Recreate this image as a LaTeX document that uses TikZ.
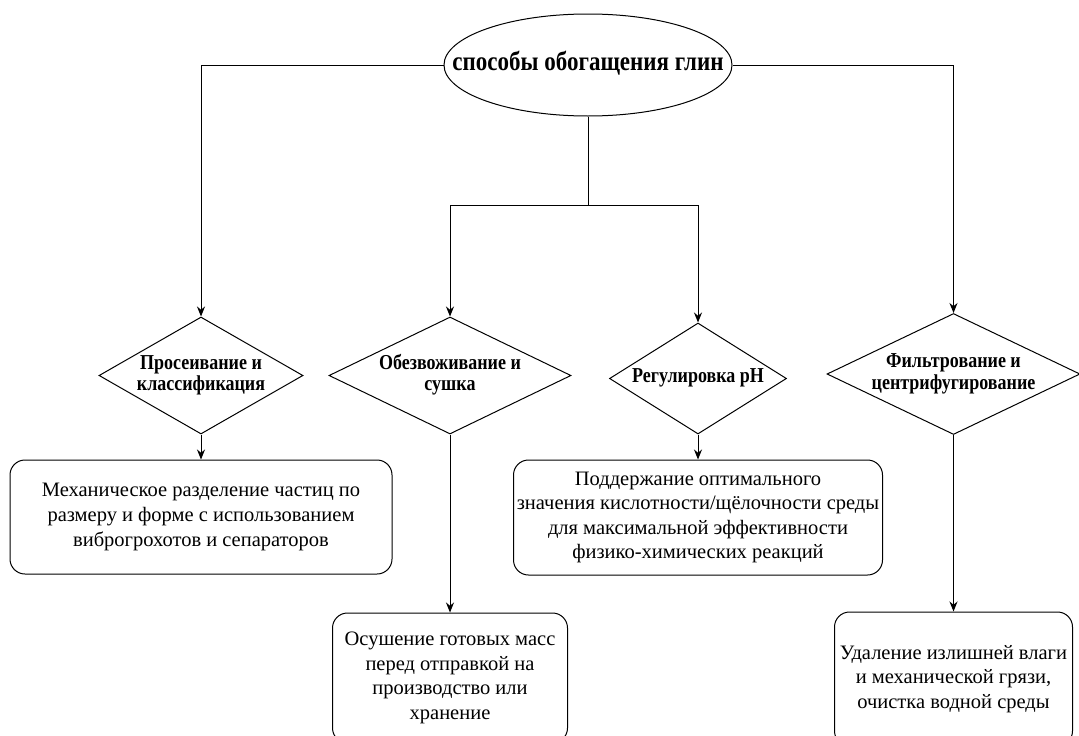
\documentclass[tikz,border=0pt]{standalone}
\usepackage{graphicx}
\usepackage{fontspec}
\setmainfont{Liberation Serif}
\usetikzlibrary{shapes.geometric,arrows.meta}
\newcommand{\inbox}[1]{\makebox[0pt]{\scalebox{1}[1.18]{\begin{tabular}{@{}c@{}}#1\end{tabular}}}}
\begin{document}
\begin{tikzpicture}[x=1pt, y=-1pt, line width=1pt, >={Stealth[length=10pt,width=8pt]},
  stepbox/.style={draw, rounded corners=15pt, align=center, inner sep=0pt, font=\fontsize{20.5}{24.6}\selectfont},
  choice/.style={draw, diamond, inner sep=0pt, font=\bfseries\fontsize{18}{18.2}\selectfont}]
\useasboundingbox (0,0) rectangle (1079,736);
\node[draw, ellipse, minimum width=288pt, minimum height=102pt, inner sep=0pt, font=\bfseries\fontsize{23}{23}\selectfont] (root) at (588,65) {\inbox{способы обогащения глин}};
\node[choice, minimum width=204pt, minimum height=117pt] (sieve) at (201,375.5) {\inbox{Просеивание и\\классификация}};
\node[choice, minimum width=242pt, minimum height=117pt] (dry) at (450,375.5) {\inbox{Обезвоживание и\\сушка}};
\node[choice, minimum width=177pt, minimum height=111pt] (ph) at (698,378.5) {\inbox{Регулировка pH}};
\node[choice, minimum width=253pt, minimum height=121pt] (filt) at (953.5,374) {\inbox{Фильтрование и\\центрифугирование}};
\node[stepbox, minimum width=382pt, minimum height=114pt] (sievebox) at (201,517) {Механическое разделение частиц по\\размеру и форме с использованием\\виброгрохотов и сепараторов};
\node[stepbox, minimum width=369pt, minimum height=115pt] (phbox) at (698,517.5) {Поддержание оптимального\\значения кислотности/щёлочности среды\\для максимальной эффективности\\физико-химических реакций};
\node[stepbox, minimum width=235pt, minimum height=130pt] (drybox) at (450,678) {Осушение готовых масс\\перед отправкой на\\производство или\\хранение};
\node[stepbox, minimum width=238pt, minimum height=134pt] (filtbox) at (953.5,679) {Удаление излишней влаги\\и механической грязи,\\очистка водной среды};
\coordinate (fork) at (588,205);
\draw[->] (root.west) -| (sieve.north);
\draw[->] (root.east) -| (filt.north);
\draw (root.south) -- (fork);
\draw[->] (fork) -| (dry.north);
\draw[->] (fork) -| (ph.north);
\draw[->] (sieve.south) -- (sievebox.north);
\draw[->] (dry.south) -- (drybox.north);
\draw[->] (ph.south) -- (phbox.north);
\draw[->] (filt.south) -- (filtbox.north);
\end{tikzpicture}
\end{document}
